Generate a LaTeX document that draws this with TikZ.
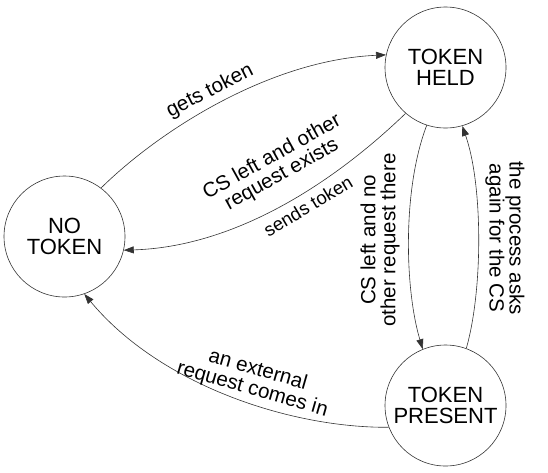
\documentclass[tikz,border=0pt]{standalone}
\usepackage{fontspec}
\setmainfont{Liberation Sans}
\usetikzlibrary{arrows.meta}
\begin{document}
\begin{tikzpicture}[x=1pt,y=-1pt,
  state/.style={circle,draw=black!80,line width=0.6pt,minimum size=121pt,inner sep=0pt,align=center,font=\fontsize{22}{21}\selectfont},
  edge/.style={draw=black!80,line width=0.6pt,-{Triangle[length=10pt,width=7pt]}},
  lbl/.style={align=center,font=\fontsize{20.5}{20}\selectfont,inner sep=0pt},
  slbl/.style={lbl,font=\fontsize{18.5}{18}\selectfont}]
\useasboundingbox (0,0) rectangle (548,472);
\node[state] (nt) at (64.5,236.5) {NO\\TOKEN};
\node[state] (th) at (445.5,67.5) {TOKEN\\HELD};
\node[state] (tp) at (445.5,405.5) {TOKEN\\PRESENT};
\draw[edge] (nt.53) .. controls (160,130) and (270,60) .. (th.168);
\draw[edge] (th.229) .. controls (327,189) and (230,247) .. (nt.-13);
\draw[edge] (th.252) .. controls (402,190) and (405,290) .. (tp.112);
\draw[edge] (tp.70) .. controls (483,290) and (483,185) .. (th.286);
\draw[edge] (tp.201) .. controls (290,428) and (160,385) .. (nt.289);
\node[lbl,rotate=27] (l1) at (210,91) {gets token};
\node[lbl,rotate=29] (l2) at (277,166) {CS left and other\\request exists};
\node[slbl,rotate=31] (l3) at (308,206) {sends token};
\node[lbl,rotate=90] (l4) at (380,240) {CS left and no\\other request there};
\node[lbl,rotate=-90] (l5) at (505,238) {the process asks\\again for the CS};
\node[lbl,rotate=-16] (l6) at (255,380) {an external\\request comes in};
\end{tikzpicture}
\end{document}
